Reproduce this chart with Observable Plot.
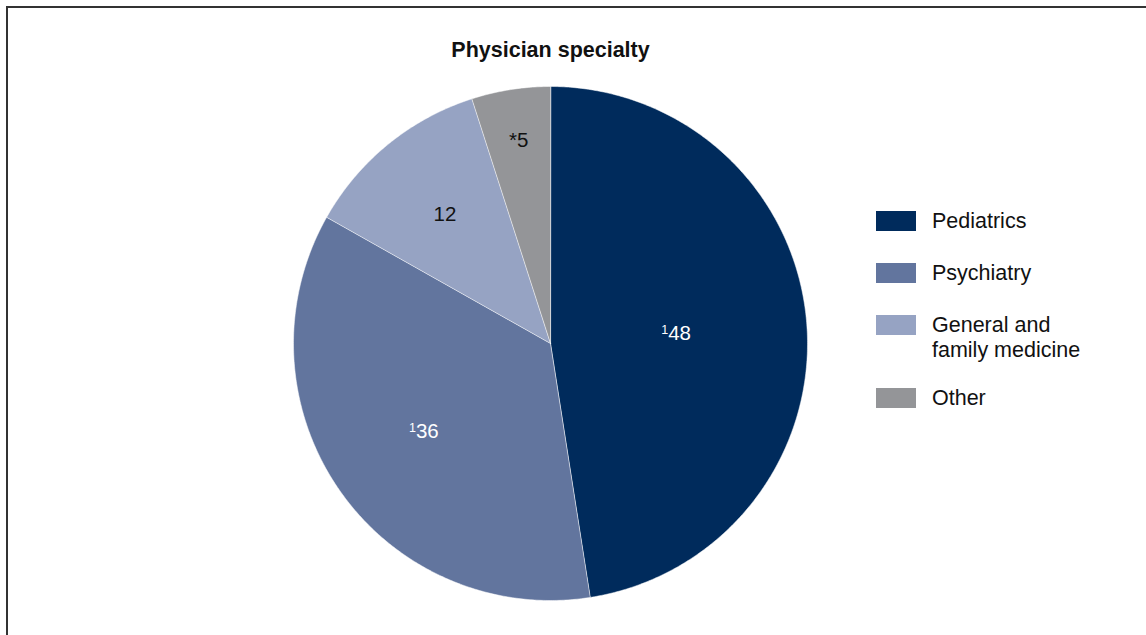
<!DOCTYPE html>
<html>
<head>
<meta charset="utf-8">
<script src="https://cdn.jsdelivr.net/npm/d3@7"></script>
<script src="https://cdn.jsdelivr.net/npm/@observablehq/plot@0.6"></script>
<style>
  html, body { margin: 0; padding: 0; background: #fff; }
  body { width: 1146px; height: 635px; position: relative; overflow: hidden; font-family: "Liberation Sans", Arial, sans-serif; }
  #frame { position: absolute; left: 6px; top: 6px; width: 1146px; height: 640px; border-top: 2px solid #333; border-left: 2px solid #333; box-sizing: border-box; pointer-events: none; }
  #chart { position: absolute; left: 0; top: 0; }
  #legend { position: absolute; left: 876px; top: 209px; font-size: 21.5px; line-height: 25px; color: #111; }
  .row { display: flex; align-items: flex-start; margin-bottom: 27px; }
  .row.two { margin-bottom: 23px; }
  .sw { width: 40px; height: 20px; margin-top: 2px; margin-right: 16px; flex: none; }
</style>
</head>
<body>
<div id="chart"></div>
<div id="legend"></div>
<div id="frame"></div>
<script>
// ---- data ----
const categories = ["Pediatrics", "Psychiatry", "General and family medicine", "Other"];
const legendLabels = ["Pediatrics", "Psychiatry", "General and\nfamily medicine", "Other"];
const values = [48, 36, 12, 5];
const valueLabels = ["48", "36", "12", "*5"];
const footnotes = ["1", "1", "", ""];
const colors = ["#002b5c", "#62759e", "#96a3c3", "#949598"];
const title = "Physician specialty";

// ---- layout constants ----
const W = 1146, H = 635;
const cx = 550, cy = 343, R = 257;
const labelRadius = [0.49, 0.60, 0.65, 0.80];

const total = d3.sum(values);
const angles = [];
let acc = 0;
values.forEach((v, i) => {
  const a0 = acc / total * 2 * Math.PI;
  acc += v;
  const a1 = acc / total * 2 * Math.PI;
  angles.push([a0, a1]);
});

// polygon points for each slice (unit radius, clockwise from top, y up)
const slicePts = [];
angles.forEach(([a0, a1], i) => {
  slicePts.push({cat: categories[i], x: 0, y: 0});
  const n = Math.max(8, Math.ceil((a1 - a0) / (Math.PI / 360)));
  for (let k = 0; k <= n; k++) {
    const a = a0 + (a1 - a0) * k / n;
    slicePts.push({cat: categories[i], x: Math.sin(a), y: Math.cos(a)});
  }
});

const labels = angles.map(([a0, a1], i) => {
  const m = (a0 + a1) / 2;
  return {cat: categories[i], text: valueLabels[i], note: footnotes[i], x: labelRadius[i] * Math.sin(m), y: labelRadius[i] * Math.cos(m), dark: i < 2};
});

const plot = Plot.plot({
  width: W,
  height: H,
  margin: 0,
  style: {fontFamily: "'Liberation Sans', Arial, sans-serif", background: "transparent"},
  x: {domain: [-cx / R, (W - cx) / R], axis: null},
  y: {domain: [-(H - cy) / R, cy / R], axis: null},
  color: {domain: categories, range: colors},
  marks: [
    Plot.line(slicePts, {x: "x", y: "y", z: "cat", fill: "cat", stroke: "#ffffff", strokeWidth: 0.5, curve: "linear-closed"}),
    Plot.text(labels, {x: "x", y: "y", text: d => d.note + "|" + d.text, fontSize: 20.5, fill: d => d.dark ? "#ffffff" : "#111111", className: "vlabel"}),
    Plot.text([title], {x: () => 0, frameAnchor: "top", dy: 50, lineAnchor: "middle", text: d => d, fontSize: 21.5, fontWeight: "bold", fill: "#111"})
  ]
});
document.getElementById("chart").appendChild(plot);

// render footnote markers as superscripts
plot.querySelectorAll("g.vlabel text").forEach(t => {
  const [note, main] = t.textContent.split("|");
  t.textContent = "";
  const ns = "http://www.w3.org/2000/svg";
  if (note) {
    const s = document.createElementNS(ns, "tspan");
    s.setAttribute("font-size", "12.5");
    s.setAttribute("dy", "-6");
    s.textContent = note;
    t.appendChild(s);
  }
  const m = document.createElementNS(ns, "tspan");
  if (note) m.setAttribute("dy", "6");
  m.textContent = main;
  t.appendChild(m);
});

// ---- legend ----
const lg = document.getElementById("legend");
categories.forEach((c, i) => {
  const row = document.createElement("div");
  row.className = "row" + (legendLabels[i].includes("\n") ? " two" : "");
  const sw = document.createElement("div");
  sw.className = "sw";
  sw.style.background = colors[i];
  const tx = document.createElement("div");
  tx.style.whiteSpace = "pre";
  tx.textContent = legendLabels[i];
  row.appendChild(sw); row.appendChild(tx);
  lg.appendChild(row);
});
</script>
</body>
</html>
